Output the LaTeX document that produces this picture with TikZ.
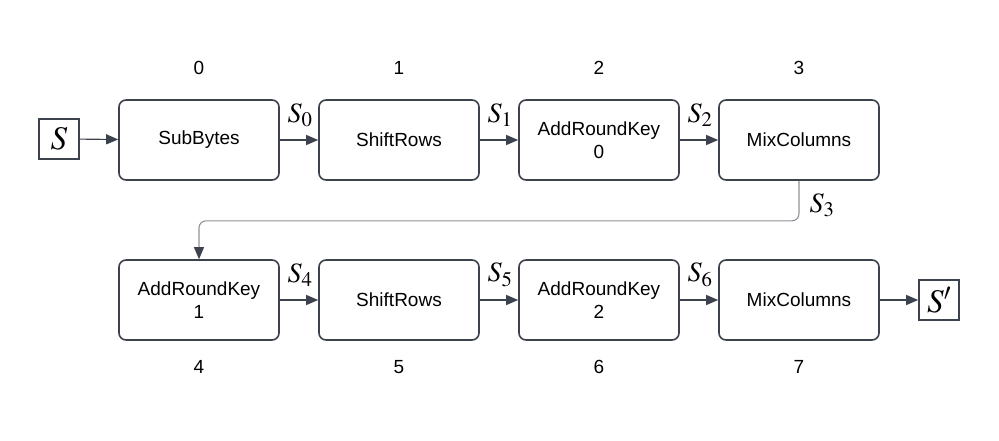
\documentclass[tikz,border=0pt]{standalone}
\usepackage{mathptmx}
\usepackage{fontspec}
\setmainfont{Liberation Sans}
\usetikzlibrary{arrows.meta}
\definecolor{edgegray}{HTML}{3D434D}
\definecolor{wiregray}{HTML}{8E9298}
\tikzset{
  stage/.style={draw=edgegray, line width=1.6pt, rounded corners=7pt, minimum width=160pt, minimum height=80pt, align=center, font=\fontsize{19}{23}\selectfont},
  statebox/.style={draw=edgegray, line width=1.6pt, minimum size=40pt, inner sep=0pt, font=\fontsize{33}{33}\selectfont},
  idx/.style={font=\fontsize{19}{23}\selectfont},
  lbl/.style={font=\fontsize{28}{28}\selectfont, inner sep=0pt},
  flow/.style={edgegray, line width=1.1pt, -{Triangle[length=12pt,width=10pt]}},
}
\begin{document}
\begin{tikzpicture}[x=1pt,y=-1pt]
\useasboundingbox (0,0) rectangle (999,440);
% first row
\node[statebox] (s) at (59,139) {$S$};
\node[stage] (b0) at (199,140) {SubBytes};
\node[stage] (b1) at (399,140) {ShiftRows};
\node[stage] (b2) at (599,140) {AddRoundKey\\0};
\node[stage] (b3) at (799,140) {MixColumns};
% second row
\node[stage] (b4) at (199,300) {AddRoundKey\\1};
\node[stage] (b5) at (399,300) {ShiftRows};
\node[stage] (b6) at (599,300) {AddRoundKey\\2};
\node[stage] (b7) at (799,300) {MixColumns};
\node[statebox] (sout) at (939,300) {$S'$};
% step numbers
\node[idx] (n0) at (199,68) {0};
\node[idx] (n1) at (399,68) {1};
\node[idx] (n2) at (599,68) {2};
\node[idx] (n3) at (799,68) {3};
\node[idx] (n4) at (199,367) {4};
\node[idx] (n5) at (399,367) {5};
\node[idx] (n6) at (599,367) {6};
\node[idx] (n7) at (799,367) {7};
% arrows
\draw[flow] (s) -- (b0);
\draw[flow] (b0) -- (b1);
\draw[flow] (b1) -- (b2);
\draw[flow] (b2) -- (b3);
\draw[flow, draw=wiregray, rounded corners=7pt, -{Triangle[length=12pt,width=10pt,color=edgegray]}] (b3.south) -- ++(0,40) -| (b4.north);
\draw[flow] (b4) -- (b5);
\draw[flow] (b5) -- (b6);
\draw[flow] (b6) -- (b7);
\draw[flow] (b7) -- (sout);
% state labels
\node[lbl] (l0) at (300,115) {$S_0$};
\node[lbl] (l1) at (500,115) {$S_1$};
\node[lbl] (l2) at (700,115) {$S_2$};
\node[lbl] (l3) at (822,205) {$S_3$};
\node[lbl] (l4) at (300,275) {$S_4$};
\node[lbl] (l5) at (500,275) {$S_5$};
\node[lbl] (l6) at (700,275) {$S_6$};
\end{tikzpicture}
\end{document}
